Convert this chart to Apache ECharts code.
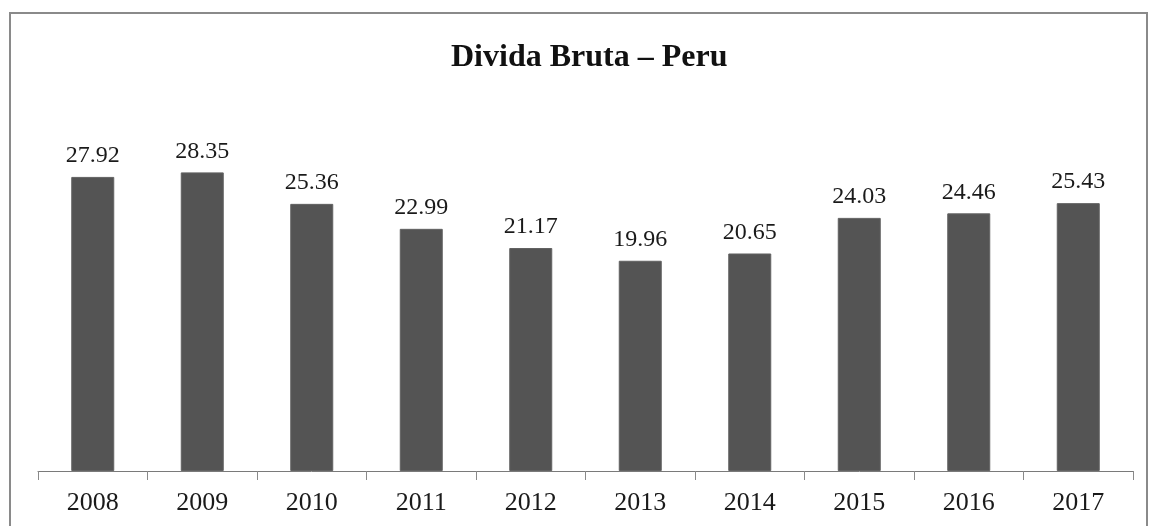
<!DOCTYPE html>
<html>
<head>
<meta charset="utf-8">
<script src="https://cdn.jsdelivr.net/npm/echarts@6/dist/echarts.min.js"></script>
<style>
  html, body { margin: 0; padding: 0; background: #fff; }
  #chart { width: 1150px; height: 526px; }
</style>
</head>
<body>
<div id="chart"></div>
<script>
// Gross public debt of Peru, % of GDP
const years = ['2008', '2009', '2010', '2011', '2012', '2013', '2014', '2015', '2016', '2017'];
const debt = [27.92, 28.35, 25.36, 22.99, 21.17, 19.96, 20.65, 24.03, 24.46, 25.43];

const chart = echarts.init(document.getElementById('chart'));
const serif = '"Liberation Serif", "DejaVu Serif", serif';

chart.setOption({
  backgroundColor: '#fff',
  animation: false,
  title: {
    text: 'Divida Bruta – Peru',
    left: 446,
    top: 37,
    textStyle: { fontFamily: serif, fontSize: 32, fontWeight: 'bold', color: '#111' }
  },
  graphic: [{
    type: 'rect',
    shape: { x: 10, y: 13, width: 1137, height: 540 },
    style: { fill: 'none', stroke: '#8a8a8a', lineWidth: 2 }
  }],
  grid: { left: 38, right: 17, top: 155, bottom: 55 },
  xAxis: {
    type: 'category',
    data: years,
    axisLine: { lineStyle: { color: '#7a7a7a', width: 1 } },
    axisTick: { show: true, alignWithLabel: false, length: 9, lineStyle: { color: '#8a8a8a' } },
    axisLabel: { fontFamily: serif, fontSize: 26, color: '#1a1a1a', margin: 19 }
  },
  yAxis: {
    type: 'value',
    min: 0,
    max: 30,
    show: false
  },
  series: [{
    type: 'bar',
    data: debt,
    barWidth: 43,
    itemStyle: { color: '#545454', borderColor: '#626262', borderWidth: 1 },
    label: {
      show: true,
      position: 'top',
      distance: 9,
      formatter: p => p.value.toFixed(2),
      fontFamily: serif,
      fontSize: 24,
      color: '#1a1a1a'
    }
  }]
});
</script>
</body>
</html>
